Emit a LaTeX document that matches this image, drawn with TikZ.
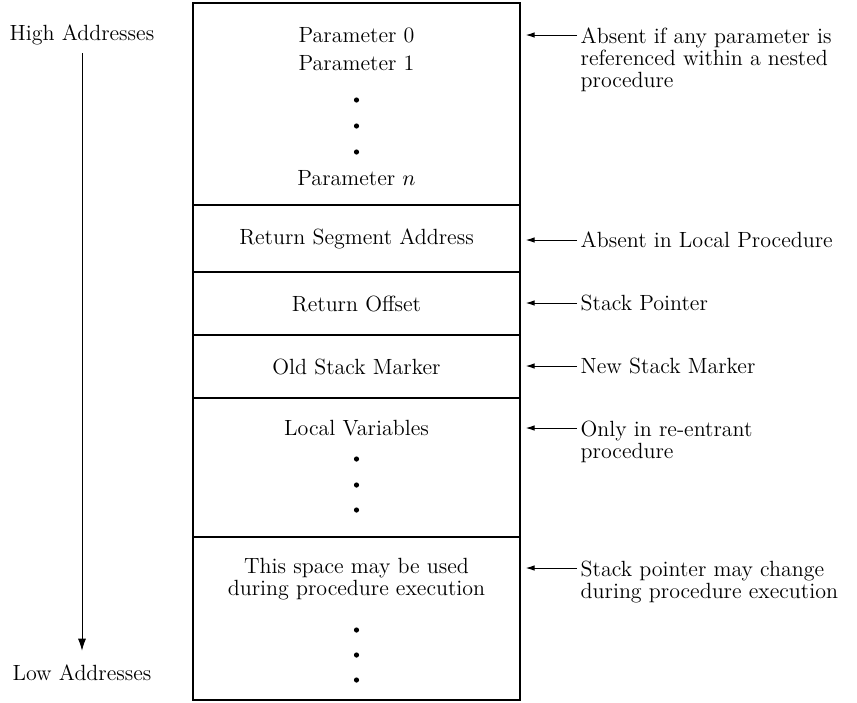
\documentclass[tikz,border=0pt]{standalone}
\usetikzlibrary{arrows.meta,positioning}

\begin{document}
\begin{tikzpicture}[x=0.5pt,y=-0.5pt,node distance={13pt},line width=0.7pt,
    txt/.style={inner sep=0pt, font=\fontsize{11}{11}\selectfont},
    cell/.style={txt, draw, minimum width=163.5pt, align=center},
    note/.style={txt, inner xsep=1.5pt, align=left},
    dot/.style={circle, fill, inner sep=0pt, minimum size=2.6pt},
    arr/.style={line width=0.5pt, -{Latex[length=4.5pt,width=2.8pt]}, shorten >=2.5pt},
    dirarr/.style={line width=0.5pt, -{Latex[length=6pt,width=4pt]}}]
    \useasboundingbox (0,0) rectangle (857,702);

    % the stack frame
    \node[cell, minimum height=101pt] (params) at (356.5,104) {};
    \node[cell, minimum height=33.5pt] (retseg) at (356.5,238.5) {Return Segment Address};
    \node[cell, minimum height=31.5pt] (retoff) at (356.5,303.5) {Return Offset};
    \node[cell, minimum height=31.5pt] (oldsm) at (356.5,366.5) {Old Stack Marker};
    \node[cell, minimum height=69.5pt] (locals) at (356.5,467.5) {};
    \node[cell, minimum height=81.5pt] (space) at (356.5,618.5) {};

    \node[txt] (p0) at (356.5,35) {Parameter 0};
    \node[txt] (p1) [below of=p0, yshift=-1pt] {Parameter 1};
    \node[dot] (pd1) [below of=p1, yshift=-5.5pt] {};
    \node[dot] (pd2) [below of=pd1] {};
    \node[dot] (pd3) [below of=pd2] {};
    \node[txt] (pn) [below of=pd3] {Parameter $n$};

    \node[txt] (lv) at (356.5,428) {Local Variables};
    \node[dot] (ld1) at (356.5,459) {};
    \node[dot] (ld2) [below of=ld1] {};
    \node[dot] (ld3) [below of=ld2, yshift=0.5pt] {};

    \node[txt, align=center] (sp) at (356.5,579.5) {This space may be used\\during procedure execution};
    \node[dot] (sd1) at (356.5,630) {};
    \node[dot] (sd2) [below of=sd1, yshift=0.5pt] {};
    \node[dot] (sd3) [below of=sd2, yshift=0.5pt] {};

    % direction of addresses
    \node[txt] (high) at (82,35) {High Addresses};
    \node[txt] (low) at (82,673) {Low Addresses};
    \draw[dirarr] ([yshift=-3.8pt]high.south) -- ([yshift=6.8pt]low.north);

    % notes on the right
    \node[note, anchor=north west] (n1) at (577,27) {Absent if any parameter is\\referenced within a nested\\procedure};
    \node[note, anchor=west] (n2) at (577,240) {Absent in Local Procedure};
    \node[note, anchor=west] (n3) at (577,303) {Stack Pointer};
    \node[note, anchor=west] (n4) at (577,366) {New Stack Marker};
    \node[note, anchor=north west] (n5) at (577,420) {Only in re-entrant\\procedure};
    \node[note, anchor=north west] (n6) at (577,560) {Stack pointer may change\\during procedure execution};

    \draw[arr] (n1.west |- p0) -- (params.east |- p0);
    \draw[arr] (n2.west) -- (n2.west -| retseg.east);
    \draw[arr] (n3.west) -- (n3.west -| retoff.east);
    \draw[arr] (n4.west) -- (n4.west -| oldsm.east);
    \draw[arr] (n5.west |- lv) -- (locals.east |- lv);
    \draw[arr] (n6.west |- 0,568) -- (space.east |- 0,568);
\end{tikzpicture}
\end{document}
